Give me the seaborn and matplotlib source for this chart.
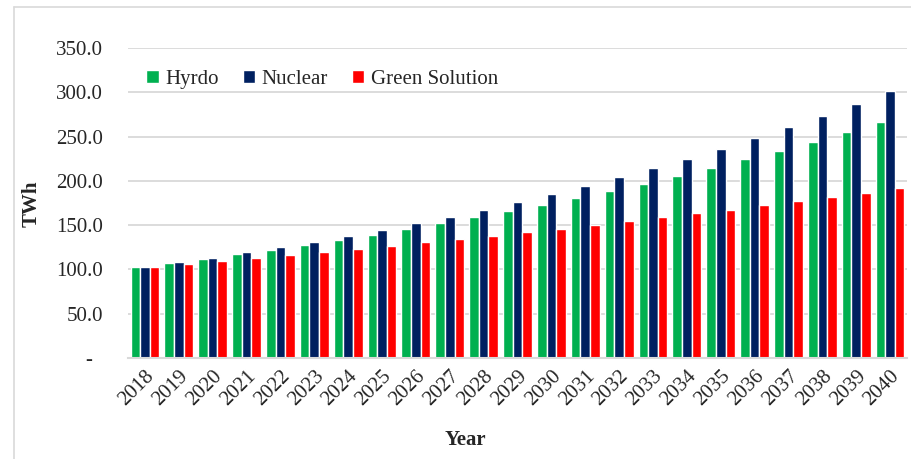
import numpy as np
import pandas as pd
import matplotlib
matplotlib.use("Agg")
import matplotlib.pyplot as plt
from matplotlib.lines import Line2D
import seaborn as sns

years = [str(y) for y in range(2018, 2041)]
hydro = [102.6, 107.5, 112.0, 117.0, 122.3, 127.5, 133.6, 139.2, 145.3, 152.1, 158.9, 165.7,
         172.8, 180.4, 188.3, 196.6, 205.3, 214.3, 224.2, 234.0, 244.2, 255.1, 266.0]
nuclear = [102.6, 108.3, 113.2, 119.2, 124.9, 131.3, 137.7, 144.5, 152.1, 159.6, 167.5, 176.0,
           184.9, 194.3, 204.2, 214.3, 224.5, 236.2, 247.9, 260.4, 273.2, 286.8, 301.5]
green = [102.6, 105.7, 109.4, 112.5, 115.8, 119.2, 122.6, 126.4, 130.6, 134.0, 138.1, 141.9,
         146.0, 150.6, 154.7, 158.9, 163.4, 167.5, 172.5, 177.0, 181.9, 186.8, 191.7]
series_names = ["Hyrdo", "Nuclear", "Green Solution"]
colors = ["#00B050", "#002060", "#FF0000"]
yticks = [0, 50, 100, 150, 200, 250, 300, 350]

df = pd.DataFrame({"Year": years * 3,
                   "Value": hydro + nuclear + green,
                   "Series": sum([[n] * len(years) for n in series_names], [])})

sns.set_theme(style="white")
plt.rcParams["font.family"] = ["Liberation Serif", "DejaVu Serif"]

W, H = 912, 459
fig = plt.figure(figsize=(W / 100, H / 100), dpi=100)
ax = fig.add_axes([128 / W, 1 - 358 / H, (907 - 128) / W, (358 - 48) / H])

sns.barplot(data=df, x="Year", y="Value", hue="Series", palette=colors,
            width=0.85, edgecolor="white", linewidth=1.0, ax=ax, saturation=1)

ax.set_xlim(-0.5, len(years) - 0.5)
ax.set_ylim(0, 350)
ax.set_yticks(yticks)
ax.set_yticklabels(["-  " if v == 0 else f"{v:.1f}" for v in yticks], fontsize=15)
ax.tick_params(axis="y", length=0, pad=18)
ax.tick_params(axis="x", length=0, pad=6)
for lab in ax.get_xticklabels():
    lab.set_rotation(45)
    lab.set_ha("right")
    lab.set_rotation_mode("anchor")
    lab.set_fontsize(15)
ax.set_axisbelow(True)
ax.yaxis.grid(True, color="#D9D9D9", linewidth=1.3)
for s in ["top", "right", "left"]:
    ax.spines[s].set_visible(False)
ax.spines["bottom"].set_color("#D9D9D9")
ax.spines["bottom"].set_linewidth(1.5)
ax.set_xlabel("")
ax.set_ylabel("")

leg = ax.legend(loc="center left", bbox_to_anchor=(0.005, 0.9), ncol=3, frameon=False,
                fontsize=15, handlelength=0.6, handleheight=0.6, handletextpad=0.3,
                columnspacing=1.15, borderaxespad=0.3)

fig.text(465 / W, 1 - 440 / H, "Year", ha="center", va="center", fontsize=15, fontweight="bold")
fig.text(32 / W, 1 - 204 / H, "TWh", ha="center", va="center", rotation=90,
         fontsize=15, fontweight="bold")

# chart-area border (left and top)
fig.add_artist(Line2D([14 / W, 14 / W], [0, 1 - 7 / H], transform=fig.transFigure,
                      color="#D9D9D9", linewidth=1.2))
fig.add_artist(Line2D([14 / W, 1], [1 - 7 / H, 1 - 7 / H], transform=fig.transFigure,
                      color="#D9D9D9", linewidth=1.2))

fig.savefig("out.png", dpi=100, facecolor="white")
